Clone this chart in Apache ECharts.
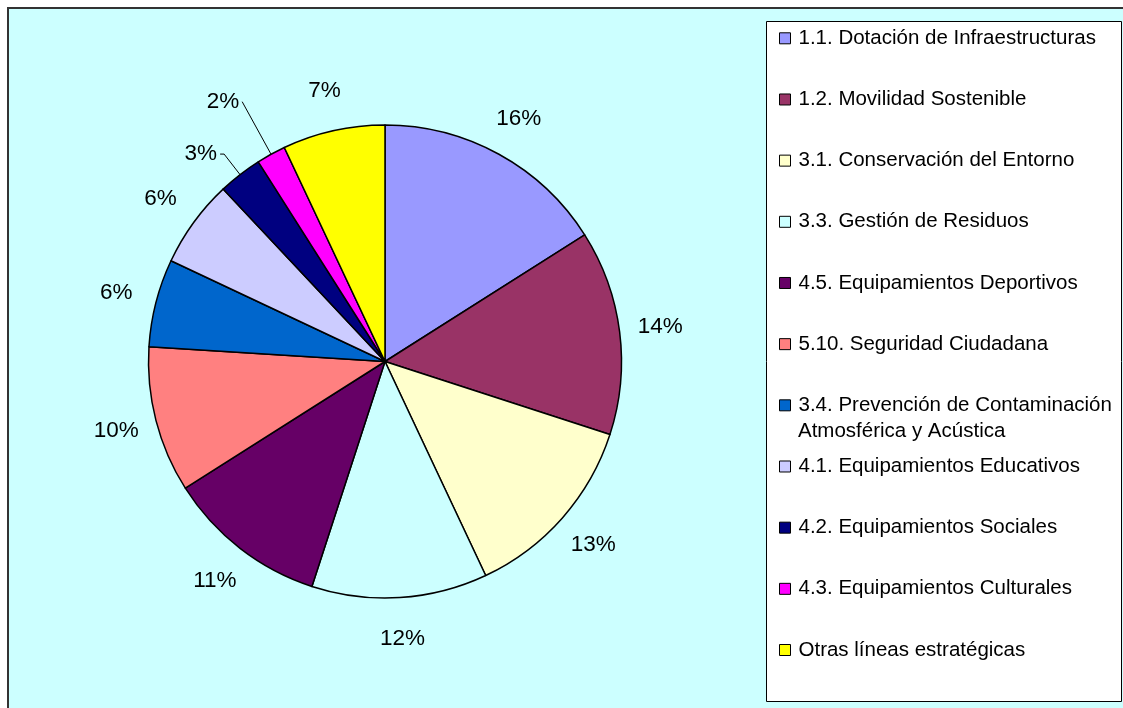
<!DOCTYPE html>
<html>
<head>
<meta charset="utf-8">
<script src="https://cdn.jsdelivr.net/npm/echarts@6/dist/echarts.min.js"></script>
<style>
  html, body { margin: 0; padding: 0; background: #fff; }
  #main { width: 1123px; height: 708px; }
</style>
</head>
<body>
<div id="main"></div>
<script>
// datos
const categories = [
  '1.1. Dotación de Infraestructuras',
  '1.2. Movilidad Sostenible',
  '3.1. Conservación del Entorno',
  '3.3. Gestión de Residuos',
  '4.5. Equipamientos Deportivos',
  '5.10. Seguridad Ciudadana',
  '3.4. Prevención de Contaminación\nAtmosférica y Acústica',
  '4.1. Equipamientos Educativos',
  '4.2. Equipamientos Sociales',
  '4.3. Equipamientos Culturales',
  'Otras líneas estratégicas'
];
const shares = [16, 14, 13, 12, 11, 10, 6, 6, 3, 2, 7];
const colors = ['#9999FF', '#993366', '#FFFFCC', '#CCFFFF', '#660066', '#FF8080',
  '#0066CC', '#CCCCFF', '#000080', '#FF00FF', '#FFFF00'];

// sectores pequeños con linea guia: [length, length2]
const leaderLines = { 8: [26, 4], 9: [60, 0] };

const FONT = "'Liberation Sans', Arial, sans-serif";
const center = [385, 361.5];
const pieR = 236.5;
const legendFirstY = 38.3;   // centro del primer elemento
const legendStep = 61.17;
const legendTextH = 24;
const legendFont = 20.5;
const legendTop = legendFirstY - legendTextH / 2;

const myChart = echarts.init(document.getElementById('main'));

const pctLabel = p => Math.round(p.percent) + '%';

const mainData = categories.map((name, i) => {
  const ll = leaderLines[i];
  return {
    name: name,
    value: shares[i],
    itemStyle: { color: colors[i] },
    label: ll ? { show: true, position: 'outside' } : { show: false },
    labelLine: ll ? {
      show: true, length: ll[0], length2: ll[1],
      lineStyle: { color: '#000', width: 1 }
    } : { show: false }
  };
});

// anillo transparente que solo coloca las etiquetas alrededor del pastel
const ringData = shares.map((v, i) => ({
  value: v,
  label: { show: !leaderLines[i] }
}));

// indice de la leyenda con texto partido en dos lineas
const wrapIdx = categories.findIndex(c => c.indexOf('\n') >= 0);

const option = {
  animation: false,
  textStyle: { fontFamily: FONT },
  graphic: [
    {
      type: 'rect', z: -10,
      shape: { x: 8, y: 8, width: 1200, height: 800 },
      style: { fill: '#CCFFFF', stroke: '#333', lineWidth: 2 }
    },
    {
      type: 'rect', z: -5,
      shape: { x: 766.5, y: 21.5, width: 355, height: 680 },
      style: { fill: '#fff', stroke: '#000', lineWidth: 1 }
    },
    {
      type: 'text', z: 10,
      x: 798,
      y: legendFirstY + wrapIdx * legendStep + 26,
      style: {
        text: categories[wrapIdx].split('\n')[1],
        font: legendFont + 'px ' + FONT,
        fill: '#000',
        verticalAlign: 'middle'
      }
    }
  ],
  legend: {
    orient: 'vertical',
    left: 779,
    top: legendTop,
    padding: 0,
    itemGap: legendStep - legendTextH,
    itemWidth: 11,
    itemHeight: 11,
    icon: 'rect',
    selectedMode: false,
    data: categories,
    itemStyle: { borderColor: '#000', borderWidth: 1 },
    formatter: name => name.split('\n')[0],
    textStyle: {
      fontFamily: FONT, fontSize: legendFont, color: '#000',
      lineHeight: legendTextH, padding: [0, 0, 0, 3]
    }
  },
  series: [
    {
      type: 'pie',
      center: center,
      radius: pieR,
      startAngle: 90,
      clockwise: true,
      avoidLabelOverlap: false,
      silent: true,
      itemStyle: { borderColor: '#000', borderWidth: 1.5 },
      label: {
        fontFamily: FONT, fontSize: 22.5, color: '#000',
        formatter: pctLabel, distanceToLabelLine: 3
      },
      emphasis: { disabled: true },
      data: mainData
    },
    {
      type: 'pie',
      center: center,
      radius: [pieR, pieR + 76],
      startAngle: 90,
      clockwise: true,
      avoidLabelOverlap: false,
      silent: true,
      itemStyle: { color: 'rgba(0,0,0,0)', borderWidth: 0 },
      label: {
        position: 'inside',
        fontFamily: FONT, fontSize: 22.5, color: '#000',
        textBorderWidth: 0,
        formatter: pctLabel
      },
      labelLine: { show: false },
      emphasis: { disabled: true },
      data: ringData
    }
  ]
};

myChart.setOption(option);
</script>
</body>
</html>
